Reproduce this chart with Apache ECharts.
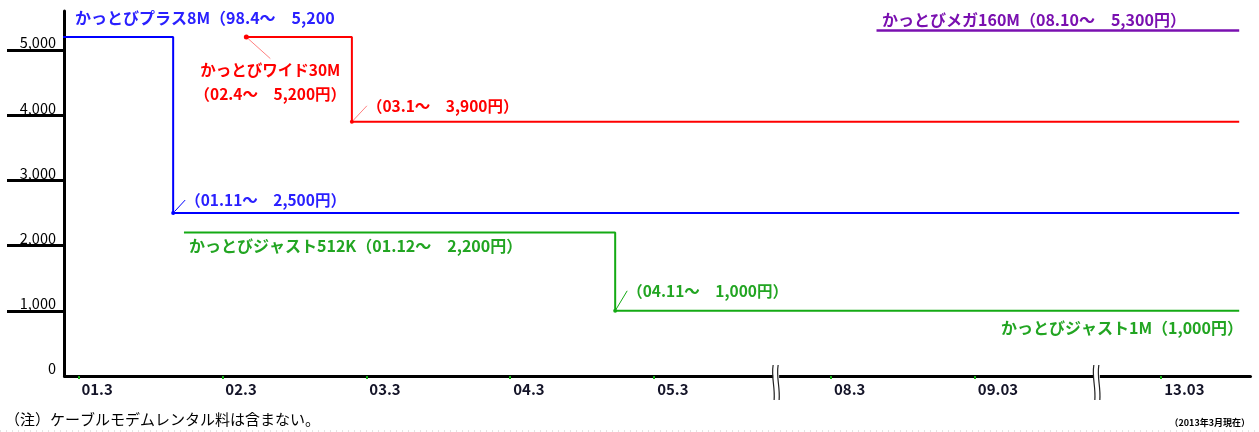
<!DOCTYPE html>
<html><head><meta charset="utf-8">
<script src="https://cdn.jsdelivr.net/npm/echarts@6/dist/echarts.min.js"></script>
<style>html,body{margin:0;padding:0;background:#fff}#c{width:1259px;height:432px}</style>
</head><body><div id="c"></div>
<script>
// x values are month indices: (year-2000)*12 + (month-1); 98.4 => -21
const tickMonths = [14, 26, 38, 50, 62, 98, 110, 158];
const tickLabels = ['01.3', '02.3', '03.3', '04.3', '05.3', '08.3', '09.03', '13.03'];
const yTickValues = [0, 1000, 2000, 3000, 4000, 5000];
const yTickLabels = ['0', '1,000', '2,000', '3,000', '4,000', '5,000'];
const axisBreaks = [[72, 93.6], [120, 152.8]];
const plus8m = [[-21, 5200], [21.9, 2500], [164.5, 2500]];
const wide30m = [[28, 5200], [36.8, 3900], [164.5, 3900]];
const just512k = [[22.8, 2200], [58.75, 1000], [164.5, 1000]];
const mega160m = [[101.8, 5300], [164.5, 5300]];

const FONT = '"Noto Sans CJK JP", "Noto Sans", sans-serif';
const BLUE = '#0000ff', RED = '#ff0000', GREEN = '#14aa14', PURPLE = '#7a10b0';

const chart = echarts.init(document.getElementById('c'));

function annot(color, fmt, pos) {
  return { show: true, formatter: fmt, position: pos, color: color, fontSize: 15.5, fontWeight: 'bold', fontFamily: FONT, lineHeight: 24 };
}
function layoutFor(map, vertical) {
  return function (p) {
    const o = map[p.dataIndex];
    if (!o) return {};
    const res = { dx: o[0], dy: o[1] };
    if (vertical && vertical[p.dataIndex]) {
      const cx = p.rect.x + p.rect.width / 2, cy = p.rect.y + p.rect.height / 2;
      const top = p.labelRect.y + o[1] + 2;
      res.labelLinePoints = [[cx, cy], [cx, top], [cx, top]];
    }
    return res;
  };
}
function withLabels(data, labels, sizes) {
  return data.map((d, i) => {
    const item = { value: d };
    if (labels[i]) item.label = labels[i];
    if (sizes && sizes[i]) { item.symbol = 'circle'; item.symbolSize = sizes[i]; }
    return item;
  });
}

const breakMids = axisBreaks.map(b => [(b[0] + b[1]) / 2, 0]);

const txt = (text, x, y, color, opts) => Object.assign({
  type: 'text', x: x, y: y, silent: true,
  style: Object.assign({ text: text, fill: color, font: 'bold 16px ' + FONT, textVerticalAlign: 'middle', textAlign: 'left' }, opts || {})
});

chart.setOption({
  animation: false,
  backgroundColor: '#fff',
  grid: { left: 64, right: 9, top: 11, bottom: 56, containLabel: false, outerBoundsMode: 'none' },
  xAxis: {
    type: 'value', min: 12.8, max: 165.4,
    breaks: axisBreaks.map(b => ({ start: b[0], end: b[1], gap: '0.34%' })),
    breakArea: { show: false },
    axisLine: { show: true, onZero: false, lineStyle: { color: '#000', width: 3 } },
    axisTick: { show: true, customValues: tickMonths, length: 3, lineStyle: { color: '#14aa14', width: 2 } },
    axisLabel: {
      customValues: tickMonths,
      formatter: v => tickLabels[tickMonths.indexOf(v)],
      align: 'left', margin: 6, padding: [0, 0, 0, 3], color: '#141428', fontSize: 15, fontWeight: 'bold', fontFamily: FONT
    },
    splitLine: { show: false }
  },
  yAxis: {
    type: 'value', min: 0, max: 5600,
    axisLine: { show: true, lineStyle: { color: '#000', width: 3 } },
    axisTick: { show: true, customValues: yTickValues.slice(1), length: 57, lineStyle: { color: '#000', width: 3 } },
    axisLabel: {
      customValues: yTickValues,
      formatter: v => yTickLabels[yTickValues.indexOf(v)],
      verticalAlign: 'bottom', margin: 8, color: '#000', fontSize: 14.5, fontFamily: FONT
    },
    splitLine: { show: false }
  },
  series: [
    {
      type: 'line', step: 'end', symbol: 'none', showSymbol: true, color: BLUE,
      lineStyle: { color: BLUE, width: 2 }, itemStyle: { color: BLUE },
      data: withLabels(plus8m, [null, annot('#2a20ff', '（01.11～　2,500円）', 'right'), null], [0, 4]),
      labelLine: { show: true, lineStyle: { color: BLUE, width: 1 } },
      labelLayout: layoutFor({ 1: [5, -13] })
    },
    {
      type: 'line', step: 'end', symbol: 'none', showSymbol: true, color: RED,
      lineStyle: { color: RED, width: 2 }, itemStyle: { color: RED },
      data: withLabels(wide30m, [annot(RED, 'かっとびワイド30M\n（02.4～　5,200円）', 'bottom'), annot(RED, '（03.1～　3,900円）', 'right'), null], [5, 4]),
      labelLine: { show: true, lineStyle: { color: '#ff8080', width: 1 } },
      labelLayout: layoutFor({ 0: [24, 14], 1: [8, -16] }, { 0: true })
    },
    {
      type: 'line', step: 'end', symbol: 'none', showSymbol: true, color: GREEN,
      lineStyle: { color: GREEN, width: 2 }, itemStyle: { color: GREEN },
      data: withLabels(just512k, [null, annot('#22a522', '（04.11～　1,000円）', 'right'), null], [0, 4]),
      labelLine: { show: true, lineStyle: { color: GREEN, width: 1 } },
      labelLayout: layoutFor({ 1: [5, -20] })
    },
    {
      type: 'line', step: 'end', symbol: 'none', color: PURPLE,
      lineStyle: { color: PURPLE, width: 2.5 },
      data: mega160m
    },
    {
      type: 'custom', silent: true, clip: false, z: 10,
      data: breakMids,
      renderItem: function (params, api) {
        const p = api.coord([api.value(0), api.value(1)]);
        const x = p[0], y = p[1];
        return {
          type: 'group', children: [
            { type: 'polygon', shape: { points: [[x - 3, y - 11], [x + 3, y - 11], [x + 3, y + 24], [x - 3, y + 24]] }, style: { fill: '#fff' } },
            { type: 'bezierCurve', shape: { x1: x - 3, y1: y - 11, cpx1: x - 5, cpy1: y + 2, cpx2: x - 1, cpy2: y + 10, x2: x - 2, y2: y + 24 }, style: { stroke: '#222', lineWidth: 1.2, fill: null } },
            { type: 'bezierCurve', shape: { x1: x + 2, y1: y - 11, cpx1: x, cpy1: y + 2, cpx2: x + 4, cpy2: y + 10, x2: x + 3, y2: y + 24 }, style: { stroke: '#222', lineWidth: 1.2, fill: null } }
          ]
        };
      }
    }
  ],
  graphic: [
    txt('かっとびプラス8M（98.4～　5,200', 75, 18, '#2a20ff'),
    txt('かっとびメガ160M（08.10～　5,300円）', 882, 20, PURPLE),
    txt('かっとびジャスト512K（01.12～　2,200円）', 189, 246, '#22a522'),
    txt('かっとびジャスト1M（1,000円）', 1243, 328, '#22a522', { textAlign: 'right' }),
    txt('（注）ケーブルモデムレンタル料は含まない。', 5, 419, '#000', { font: '15px ' + FONT }),
    txt('（2013年3月現在）', 1250, 423, '#000', { font: 'bold 9px ' + FONT, textAlign: 'right' }),
    { type: 'line', silent: true, shape: { x1: 0, y1: 431, x2: 1259, y2: 431 }, style: { stroke: '#c8c8c8', lineWidth: 1, lineDash: [1, 5] } }
  ]
});
</script></body></html>
